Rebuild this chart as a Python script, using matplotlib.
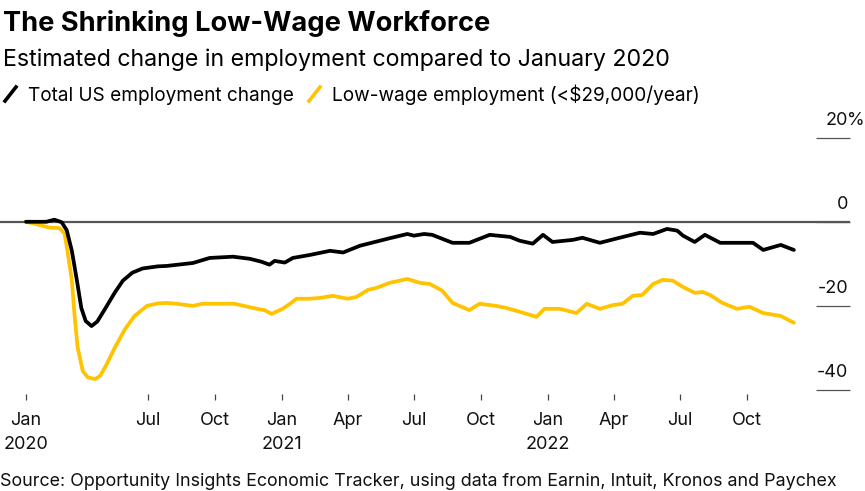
import matplotlib
matplotlib.use("Agg")
import matplotlib.pyplot as plt
import matplotlib.transforms as mtransforms
import pandas as pd

plt.rcParams['font.family'] = ['Inter', 'DejaVu Sans']

# Estimated change in employment vs January 2020 (%)
total_dates = ['2020-01-16', '2020-02-13', '2020-02-24', '2020-03-05', '2020-03-12',
               '2020-03-19', '2020-03-26', '2020-04-01', '2020-04-07', '2020-04-15',
               '2020-04-23', '2020-05-06', '2020-05-17', '2020-05-28', '2020-06-10',
               '2020-06-24', '2020-07-15', '2020-07-27', '2020-09-01', '2020-09-24',
               '2020-10-26', '2020-11-18', '2020-12-04', '2020-12-15', '2020-12-22',
               '2021-01-05', '2021-01-16', '2021-02-08', '2021-03-08', '2021-03-26',
               '2021-04-18', '2021-05-29', '2021-06-22', '2021-07-01', '2021-07-15',
               '2021-07-26', '2021-08-23', '2021-09-15', '2021-10-13', '2021-11-10',
               '2021-11-23', '2021-12-11', '2021-12-25', '2022-01-07', '2022-02-04',
               '2022-02-17', '2022-03-13', '2022-04-09', '2022-05-07', '2022-05-25',
               '2022-06-13', '2022-06-27', '2022-07-05', '2022-07-21', '2022-08-04',
               '2022-08-25', '2022-10-09', '2022-10-23', '2022-11-16', '2022-12-04']
total_change = [0.0, 0.0, 0.5, -0.1, -2.0,
                -6.9, -14.0, -20.5, -23.6, -24.8,
                -23.7, -20.0, -16.8, -14.0, -12.1,
                -11.1, -10.6, -10.5, -9.8, -8.6,
                -8.3, -8.8, -9.5, -10.2, -9.3,
                -9.7, -8.6, -7.9, -6.9, -7.3,
                -5.7, -3.9, -2.9, -3.3, -2.9,
                -3.1, -5.0, -5.0, -3.1, -3.6,
                -4.5, -5.2, -3.1, -4.8, -4.3,
                -3.8, -5.0, -3.8, -2.6, -2.9,
                -1.7, -2.1, -3.3, -4.8, -3.1,
                -5.0, -5.0, -6.7, -5.5, -6.7]

low_dates = ['2020-01-16', '2020-01-31', '2020-02-18', '2020-03-02', '2020-03-09',
             '2020-03-13', '2020-03-19', '2020-03-23', '2020-03-27', '2020-04-03',
             '2020-04-10', '2020-04-20', '2020-04-27', '2020-05-06', '2020-05-17',
             '2020-05-31', '2020-06-13', '2020-06-30', '2020-07-15', '2020-07-27',
             '2020-08-10', '2020-09-01', '2020-09-14', '2020-10-28', '2020-11-28',
             '2020-12-08', '2020-12-18', '2021-01-02', '2021-01-12', '2021-01-21',
             '2021-02-08', '2021-02-22', '2021-03-12', '2021-04-01', '2021-04-13',
             '2021-04-29', '2021-05-11', '2021-05-29', '2021-06-22', '2021-07-09',
             '2021-07-23', '2021-08-09', '2021-08-23', '2021-09-15', '2021-09-29',
             '2021-10-22', '2021-11-05', '2021-11-23', '2021-12-16', '2021-12-27',
             '2022-01-17', '2022-02-09', '2022-02-23', '2022-03-13', '2022-03-31',
             '2022-04-13', '2022-04-27', '2022-05-10', '2022-05-25', '2022-06-07',
             '2022-06-21', '2022-07-05', '2022-07-21', '2022-08-01', '2022-08-11',
             '2022-08-28', '2022-09-17', '2022-10-04', '2022-10-23', '2022-11-16',
             '2022-12-04']
low_change = [0.0, -0.6, -1.4, -1.5, -2.8,
              -6.9, -14.0, -22.8, -29.9, -35.5,
              -37.0, -37.4, -36.6, -33.8, -29.9,
              -25.5, -22.4, -20.0, -19.4, -19.3,
              -19.5, -20.0, -19.5, -19.5, -20.7,
              -21.0, -21.9, -20.7, -19.5, -18.3,
              -18.3, -18.1, -17.6, -18.3, -17.9,
              -16.2, -15.7, -14.5, -13.6, -14.5,
              -14.8, -16.4, -19.3, -21.0, -19.5,
              -20.0, -20.5, -21.4, -22.6, -20.7,
              -20.7, -21.7, -19.5, -20.7, -19.8,
              -19.5, -17.6, -17.4, -14.8, -13.8,
              -14.0, -15.5, -16.9, -16.7, -17.4,
              -19.3, -20.7, -20.2, -21.7, -22.4,
              -24.0]

tick_dates = ['2020-01-16', '2020-07-01', '2020-10-01', '2021-01-01', '2021-04-01',
              '2021-07-01', '2021-10-01', '2022-01-01', '2022-04-01', '2022-07-01',
              '2022-10-01']
tick_labels = ['Jan\n2020', 'Jul', 'Oct', 'Jan\n2021', 'Apr', 'Jul', 'Oct',
               'Jan\n2022', 'Apr', 'Jul', 'Oct']
y_ticks = [20, 0, -20, -40]

BLACK = '#000000'
YELLOW = '#ffc300'

fig = plt.figure(figsize=(8.65, 4.91), dpi=100)
ax = fig.add_axes([0, 0.2057, 0.9827, 0.5139])

ax.axhline(0, color='#555555', lw=1.6, zorder=1)
ax.plot(pd.to_datetime(low_dates), low_change, color=YELLOW, lw=2.7,
        solid_joinstyle='round', solid_capstyle='round', zorder=3)
ax.plot(pd.to_datetime(total_dates), total_change, color=BLACK, lw=2.7,
        solid_joinstyle='round', solid_capstyle='round', zorder=4)

ax.set_xlim(pd.Timestamp('2019-12-11 12:00'), pd.Timestamp('2023-02-19'))
ax.set_ylim(-40, 20)

for s in ax.spines.values():
    s.set_visible(False)
ax.spines['bottom'].set_position(('outward', 3))

ax.set_xticks(pd.to_datetime(tick_dates))
ax.set_xticklabels(tick_labels, fontsize=13, linespacing=1.5)
ax.tick_params(axis='x', length=4, width=0.9, color='#444444', pad=9,
               labelcolor='#111111')

# right-side value labels sitting on short rules
ax.set_yticks(y_ticks)
ax.tick_params(axis='y', left=False, right=True, labelleft=False, labelright=False,
               direction='in', length=24.5, width=0.9, color='#555555')
trans = mtransforms.blended_transform_factory(ax.transAxes, ax.transData)
off = mtransforms.offset_copy(trans, fig=fig, x=-2, y=9, units='dots')
off_pct = mtransforms.offset_copy(trans, fig=fig, x=-3, y=9, units='dots')
for v in y_ticks:
    txt = '20' if v == 20 else str(v)
    ax.text(1.0, v, txt, transform=off, ha='right', va='bottom', fontsize=13,
            color='#111111')
    if v == 20:
        ax.text(1.0, v, '%', transform=off_pct, ha='left', va='bottom', fontsize=13,
                color='#111111')

# titles
fig.text(3 / 865, 1 - 31 / 491, 'The Shrinking Low-Wage Workforce', fontsize=19.6,
         fontweight='bold', va='baseline', ha='left')
fig.text(3 / 865, 1 - 66 / 491, 'Estimated change in employment compared to January 2020',
         fontsize=16.7, va='baseline', ha='left')

# legend with slash markers
for x0, color, label in [(5, BLACK, 'Total US employment change'),
                         (309, YELLOW, 'Low-wage employment (<$29,000/year)')]:
    fig.add_artist(plt.Line2D([x0 / 865, (x0 + 11) / 865],
                              [1 - 101 / 491, 1 - 87 / 491], color=color, lw=2.6,
                              transform=fig.transFigure))
    fig.text((x0 + 23) / 865, 1 - 101 / 491, label, fontsize=13.7, va='baseline',
             ha='left')

fig.text(0 / 865, 1 - 486 / 491,
         'Source: Opportunity Insights Economic Tracker, using data from Earnin, Intuit, Kronos and Paychex',
         fontsize=12.9, va='baseline', ha='left', color='#111111')

fig.savefig('out.png', dpi=100)
